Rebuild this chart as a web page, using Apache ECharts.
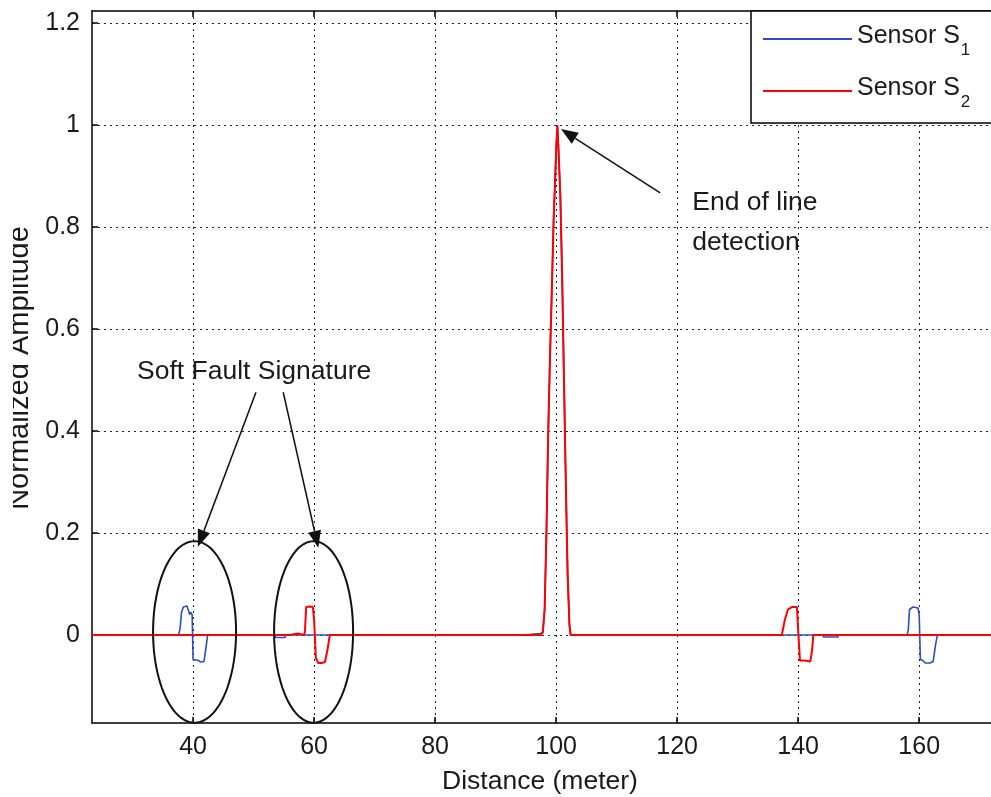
<!DOCTYPE html>
<html>
<head>
<meta charset="utf-8">
<title>Normalized Amplitude vs Distance</title>
<script src="https://cdn.jsdelivr.net/npm/echarts@6/dist/echarts.min.js"></script>
<style>
  html, body { margin: 0; padding: 0; background: #fff; }
  #chart { width: 991px; height: 797px; }
</style>
</head>
<body>
<div id="chart"></div>
<script>
// Sensor S1 reflectogram (distance in metres, normalized amplitude)
const s1Distance = [23.3, 37.6, 37.85, 38.1, 38.4, 39.0, 39.3, 39.45, 39.6, 39.85, 40.0, 40.9, 41.3, 41.8, 42.2, 42.4,
  53.5, 53.6, 55.2, 55.3, 86.0, 86.3, 86.6, 94.5, 94.6, 97.4, 97.5, 97.8, 98.1, 98.4, 98.7, 99.0, 99.3, 99.6, 99.8,
  100.0, 100.2, 100.4, 100.7, 101.0, 101.3, 101.6, 101.9, 102.2, 102.4, 143.0, 143.3, 143.6, 144.1, 144.2, 146.6, 146.7,
  158.0, 158.2, 158.4, 159.0, 159.8, 160.0, 160.2, 160.6, 161.0, 161.8, 162.3, 162.7, 163.0, 176];
const s1Amplitude = [0, 0, 0.012, 0.045, 0.055, 0.057, 0.056, 0.04, 0.045, 0.04, -0.048, -0.05, -0.053, -0.052, -0.02, 0,
  0, -0.005, -0.005, 0, 0, 0.003, 0, 0, 0.003, 0.003, 0, 0.005, 0.05, 0.2, 0.4, 0.55, 0.68, 0.82, 0.88,
  0.95, 1.0, 0.95, 0.86, 0.7, 0.5, 0.3, 0.12, 0.02, 0, 0, 0.003, 0, 0, -0.004, -0.004, 0,
  0, 0.01, 0.05, 0.055, 0.053, 0.04, -0.048, -0.05, -0.055, -0.055, -0.052, -0.02, 0, 0];

// Sensor S2 reflectogram
const s2Distance = [23.3, 56.0, 56.1, 57.3, 57.4, 58.4, 58.5, 58.7, 59.3, 59.8, 60.0, 60.3, 60.7, 61.3, 61.8, 62.2, 62.6,
  97.5, 97.8, 98.1, 98.4, 98.7, 99.0, 99.3, 99.6, 99.8, 100.0, 100.2, 100.4, 100.7, 101.0, 101.3, 101.6, 101.9, 102.2, 102.4,
  137.3, 137.8, 138.3, 139.0, 139.8, 140.0, 140.3, 141.0, 142.0, 142.3, 142.5, 176];
const s2Amplitude = [0, 0, 0.003, 0.003, 0, 0, 0.01, 0.055, 0.056, 0.055, 0.03, -0.045, -0.055, -0.055, -0.053, -0.03, 0,
  0, 0.005, 0.05, 0.2, 0.4, 0.55, 0.68, 0.82, 0.88, 0.95, 1.0, 0.95, 0.86, 0.7, 0.5, 0.3, 0.12, 0.02, 0,
  0, 0.03, 0.05, 0.055, 0.055, 0.01, -0.05, -0.05, -0.052, -0.03, 0, 0];

// Axis ticks
const xTicks = [40, 60, 80, 100, 120, 140, 160];
const yTicks = [0, 0.2, 0.4, 0.6, 0.8, 1, 1.2];

const seriesNames = ['Sensor S1', 'Sensor S2'];
const FONT = '"Liberation Sans", Arial, sans-serif';
const TXT = '#1a1a1a';

const chart = echarts.init(document.getElementById('chart'), null, { renderer: 'canvas' });

function pairs(xs, ys) { return xs.map((x, i) => [x, ys[i]]); }

const gridLine = { show: true, lineStyle: { color: '#222', width: 1, type: [2, 4] } };
const axisLine = { show: true, onZero: false, lineStyle: { color: '#000', width: 1.5 } };

chart.setOption({
  animation: false,
  backgroundColor: '#fff',
  grid: { left: 92, top: 11, bottom: 74, right: -25, show: false, outerBoundsMode: 'none', containLabel: false },
  legend: {
    orient: 'vertical', left: 751, top: 11,
    padding: [13, 30, 12, 12], itemGap: 17,
    itemWidth: 89, itemHeight: 2, icon: 'rect',
    backgroundColor: '#fff', borderColor: '#000', borderWidth: 1.5,
    data: seriesNames,
    formatter: name => '{main|Sensor S}{sub|' + name.slice(-1) + '}',
    textStyle: {
      color: TXT, fontFamily: FONT,
      rich: {
        main: { fontSize: 25, fontFamily: FONT, color: TXT, lineHeight: 30, verticalAlign: 'top' },
        sub: { fontSize: 17, fontFamily: FONT, color: TXT, lineHeight: 17, verticalAlign: 'top', padding: [18, 0, 0, 1] }
      }
    }
  },
  xAxis: [{
    type: 'value', min: 23.3, max: 176,
    axisLine: axisLine,
    axisTick: { show: true, inside: true, length: 6, customValues: xTicks, lineStyle: { color: '#000', width: 1.5 } },
    axisLabel: { customValues: xTicks, margin: 12, fontSize: 25, fontFamily: FONT, color: TXT },
    splitLine: gridLine,
    name: 'Distance (meter)', nameLocation: 'middle', nameGap: 45,
    nameTextStyle: { fontSize: 26.5, fontFamily: FONT, color: TXT, padding: [0, 28, 0, 0] }
  }, {
    type: 'value', min: 23.3, max: 176, position: 'top',
    axisLine: axisLine,
    axisTick: { show: true, inside: true, length: 6, customValues: xTicks, lineStyle: { color: '#000', width: 1.5 } },
    axisLabel: { show: false },
    splitLine: { show: false }
  }],
  yAxis: {
    type: 'value', min: -0.1725, max: 1.2235,
    axisLine: axisLine,
    axisTick: { show: true, inside: true, length: 6, customValues: yTicks, lineStyle: { color: '#000', width: 1.5 } },
    axisLabel: { customValues: yTicks, margin: 12, fontSize: 25, fontFamily: FONT, color: TXT },
    splitLine: gridLine
  },
  series: [{
    name: seriesNames[0], type: 'line', showSymbol: false, symbol: 'none',
    data: pairs(s1Distance, s1Amplitude),
    lineStyle: { color: '#2a4fc0', width: 1.6 }, itemStyle: { color: '#2a4fc0' }, z: 3
  }, {
    name: seriesNames[1], type: 'line', showSymbol: false, symbol: 'none',
    data: pairs(s2Distance, s2Amplitude),
    lineStyle: { color: '#ff0000', width: 2 }, itemStyle: { color: '#ff0000' }, z: 4
  }]
});

// Annotations placed in data coordinates and converted to pixels
function toPx(x, y) { return chart.convertToPixel({ xAxisIndex: 0, yAxisIndex: 0 }, [x, y]); }

function ellipse(cx, cy, rx, ry) {
  const c = toPx(cx, cy);
  const e = toPx(cx + rx, cy + ry);
  const a = Math.abs(e[0] - c[0]), b = Math.abs(e[1] - c[1]);
  const pts = [];
  for (let i = 0; i <= 96; i++) {
    const t = i / 96 * Math.PI * 2;
    pts.push([c[0] + a * Math.cos(t), c[1] + b * Math.sin(t)]);
  }
  return { type: 'polyline', shape: { points: pts }, style: { stroke: '#111', lineWidth: 2, fill: null }, z: 50 };
}

function arrow(x0, y0, x1, y1) {
  const p0 = toPx(x0, y0), p1 = toPx(x1, y1);
  const dx = p1[0] - p0[0], dy = p1[1] - p0[1];
  const len = Math.hypot(dx, dy), ux = dx / len, uy = dy / len;
  const hl = 17, hw = 6.5;
  const bx = p1[0] - ux * hl, by = p1[1] - uy * hl;
  return [
    { type: 'line', shape: { x1: p0[0], y1: p0[1], x2: bx, y2: by }, style: { stroke: '#111', lineWidth: 1.5 }, z: 50 },
    { type: 'polygon', shape: { points: [[p1[0], p1[1]], [bx - uy * hw, by + ux * hw], [bx + uy * hw, by - ux * hw]] },
      style: { fill: '#111' }, z: 50 }
  ];
}

function label(text, x, y) {
  const p = toPx(x, y);
  return { type: 'text', x: p[0], y: p[1], z: 50,
    style: { text: text, fontSize: 26.5, fontFamily: FONT, fill: TXT, textAlign: 'left', textVerticalAlign: 'middle' } };
}

chart.setOption({
  graphic: [
    ellipse(40.25, 0.006, 6.86, 0.178),
    ellipse(59.92, 0.006, 6.53, 0.178),
    ...arrow(50.4, 0.476, 40.8, 0.173),
    ...arrow(54.9, 0.476, 60.7, 0.171),
    ...arrow(117.2, 0.867, 100.8, 0.992),
    label('Soft Fault Signature', 30.74, 0.516),
    label('End of line', 122.5, 0.847),
    label('detection', 122.5, 0.769),
    { type: 'text', x: 20, y: 368, rotation: Math.PI / 2, z: 40,
      style: { text: 'Normalized Amplitude', fontSize: 29, fontFamily: FONT, fill: TXT, textAlign: 'center', textVerticalAlign: 'middle' } },
    { type: 'rect', shape: { x: 0, y: 200, width: 13, height: 340 }, style: { fill: '#fff' }, z: 45 }
  ]
});
</script>
</body>
</html>
